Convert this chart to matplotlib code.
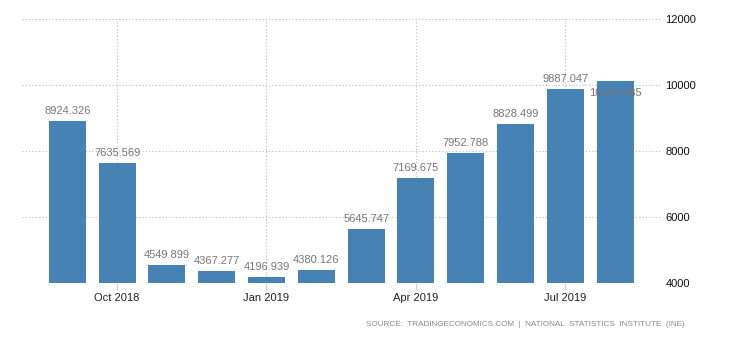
import matplotlib
matplotlib.use("Agg")
import matplotlib.pyplot as plt

months = ["Sep 2018", "Oct 2018", "Nov 2018", "Dec 2018", "Jan 2019", "Feb 2019",
          "Mar 2019", "Apr 2019", "May 2019", "Jun 2019", "Jul 2019", "Aug 2019"]
values = [8924.326, 7635.569, 4549.899, 4367.277, 4196.939, 4380.126,
          5645.747, 7169.675, 7952.788, 8828.499, 9887.047, 10121.085]
xtick_labels = ["Oct 2018", "Jan 2019", "Apr 2019", "Jul 2019"]
yticks = [4000, 6000, 8000, 10000, 12000]

plt.rcParams['font.family'] = ['Liberation Sans', 'DejaVu Sans']

fig = plt.figure(figsize=(7.3, 3.4), dpi=100)
ax = fig.add_axes([0.0301, 0.1676, 0.904 - 0.0301, 0.9441 - 0.1676])

x = list(range(len(months)))
ax.bar(x, values, width=0.74, color="#4682b4", zorder=3, bottom=0)

ax.set_ylim(4000, 12000)
ax.set_xlim(-0.91, 11.9)

ax.set_yticks(yticks)
ax.set_yticklabels([str(v) for v in yticks])
ax.yaxis.tick_right()
ax.tick_params(axis='y', length=0, pad=4, labelsize=8, labelcolor="#111111")

tick_pos = [months.index(m) for m in xtick_labels]
ax.set_xticks(tick_pos)
ax.set_xticklabels(xtick_labels)
ax.tick_params(axis='x', length=5, width=0.8, color="#cccccc", pad=2,
               labelsize=8, labelcolor="#222222")
for lab in ax.get_yticklabels():
    lab.set_horizontalalignment('left')

ax.grid(True, axis='both', linestyle=(0, (1, 2)), color="#bbbbbb", linewidth=0.8, zorder=0)
for s in ax.spines.values():
    s.set_visible(False)

for i, v in enumerate(values):
    if i == len(values) - 1:
        ax.annotate(f"{v:.3f}", (i, v), xytext=(0, -12), textcoords="offset pixels",
                    ha="center", va="center", fontsize=8, color="#777777", zorder=4)
    else:
        ax.annotate(f"{v:.3f}", (i, v), xytext=(0, 5), textcoords="offset pixels",
                    ha="center", va="bottom", fontsize=8, color="#777777", zorder=4)

fig.text(0.938, 1 - 324 / 340, "SOURCE:  TRADINGECONOMICS.COM  |  NATIONAL  STATISTICS  INSTITUTE  (INE)",
         ha="right", va="center", fontsize=5.9, color="#888888")

fig.savefig("out.png", dpi=100)
